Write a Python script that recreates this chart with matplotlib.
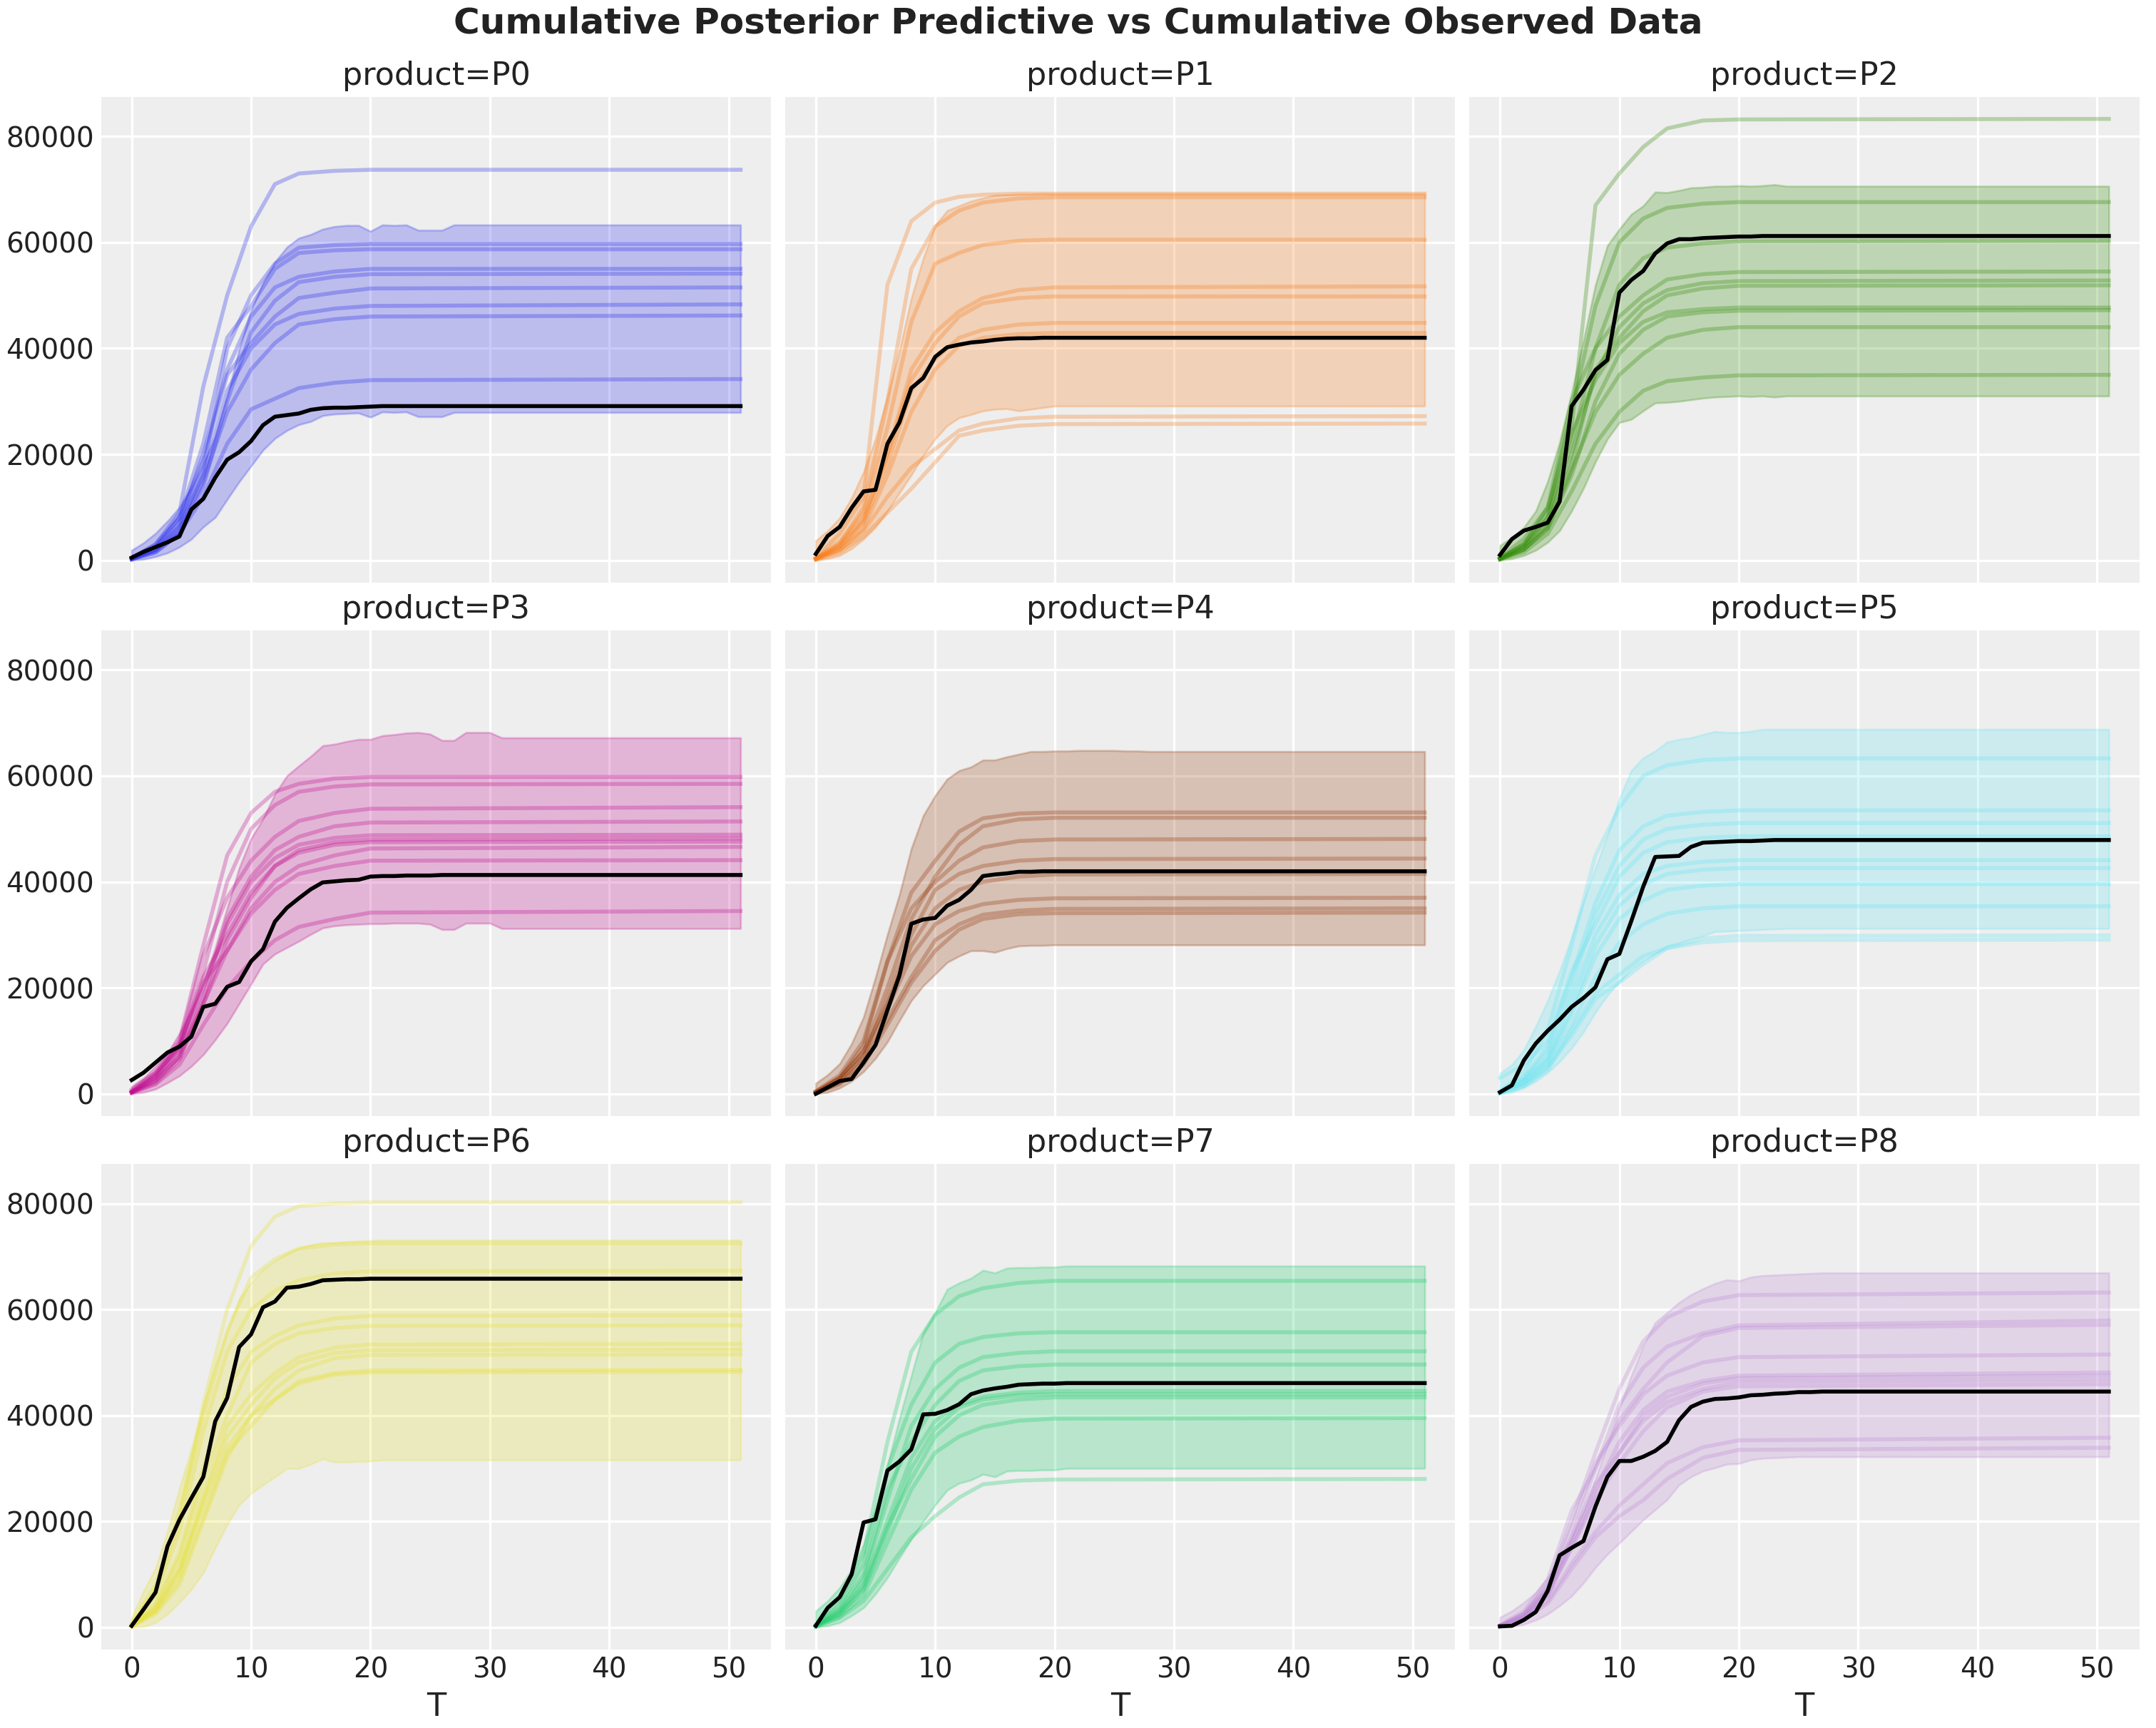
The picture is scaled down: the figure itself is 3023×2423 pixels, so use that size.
import numpy as np
import matplotlib.pyplot as plt

# time grids (T axis). band/observed are read at every step up to 31, samples at fewer steps
T_BAND = list(range(32)) + [51]
T_DRAW = [0, 2, 4, 6, 8, 10, 12, 14, 17, 20, 51]

products = ["P0", "P1", "P2", "P3", "P4", "P5", "P6", "P7", "P8"]
colors = ["#2a2eec", "#fa7c17", "#328c06", "#c10c90", "#933708",
          "#65e5f3", "#e6e135", "#1ccd6a", "#bd8ad5"]

# values in thousands
obs_p0 = [0.5, 1.6, 2.5, 3.4, 4.5, 9.6, 11.6, 15.6, 19.0, 20.4,
          22.5, 25.5, 27.1, 27.4, 27.7, 28.4, 28.7, 28.8, 28.8, 28.9,
          29.0, 29.1, 29.1, 29.1, 29.1, 29.1, 29.1, 29.1, 29.1, 29.1,
          29.1, 29.1, 29.1]
upper_p0 = [1.9, 3.3, 5.1, 7.4, 10.0, 13.7, 18.2, 23.4, 30.8, 39.8,
            47.2, 52.4, 56.3, 59.1, 60.8, 61.5, 62.5, 63.0, 63.2, 63.2,
            62.1, 63.3, 63.2, 63.3, 62.3, 62.3, 62.3, 63.3, 63.3, 63.3,
            63.3, 63.3, 63.3]
lower_p0 = [0.0, 0.2, 0.7, 1.4, 2.5, 4.0, 6.3, 8.1, 11.5, 14.8,
            17.8, 20.8, 23.0, 24.5, 25.6, 26.2, 27.3, 27.6, 27.7, 27.8,
            27.0, 28.0, 27.9, 28.0, 27.1, 27.1, 27.1, 27.9, 27.9, 27.9,
            27.9, 27.9, 27.9]
samples_p0 = [
    [0.3, 3.0, 9.0, 32.8, 50.0, 63.0, 71.0, 73.0, 73.5, 73.7, 73.7],
    [0.2, 2.0, 6.0, 17.0, 40.0, 50.0, 56.0, 59.0, 59.5, 59.7, 59.7],
    [0.5, 3.0, 8.0, 22.0, 42.0, 48.0, 55.0, 58.0, 58.5, 58.7, 58.7],
    [0.3, 2.5, 7.0, 20.0, 36.0, 46.0, 51.5, 53.5, 54.5, 55.0, 55.0],
    [0.2, 1.5, 5.0, 14.0, 30.0, 43.0, 49.0, 52.5, 53.5, 54.0, 54.1],
    [0.4, 2.5, 8.0, 19.0, 35.0, 41.0, 46.0, 49.5, 50.5, 51.3, 51.5],
    [0.2, 2.0, 6.5, 16.0, 32.0, 40.0, 44.5, 46.5, 47.5, 48.0, 48.3],
    [0.3, 1.8, 5.5, 15.0, 28.0, 36.0, 41.0, 44.5, 45.5, 46.0, 46.2],
    [0.2, 1.5, 5.0, 12.0, 22.0, 28.5, 30.5, 32.5, 33.5, 34.0, 34.2],
]

obs_p1 = [1.2, 4.6, 6.3, 9.9, 13.0, 13.3, 22.0, 26.0, 32.5, 34.4,
          38.4, 40.2, 40.7, 41.1, 41.3, 41.6, 41.8, 41.9, 41.9, 42.0,
          42.0, 42.0, 42.0, 42.0, 42.0, 42.0, 42.0, 42.0, 42.0, 42.0,
          42.0, 42.0, 42.0]
upper_p1 = [3.7, 5.6, 8.0, 11.8, 16.7, 22.9, 31.0, 39.6, 49.5, 57.0,
            63.2, 66.0, 66.9, 67.8, 68.4, 68.9, 69.0, 69.1, 69.1, 69.2,
            69.2, 69.2, 69.2, 69.2, 69.2, 69.2, 69.2, 69.2, 69.2, 69.2,
            69.2, 69.2, 69.2]
lower_p1 = [0.0, 0.3, 0.9, 2.2, 4.0, 6.2, 9.3, 12.7, 16.1, 19.8,
            22.9, 25.4, 26.9, 27.5, 28.2, 28.5, 28.6, 28.2, 28.5, 28.8,
            29.1, 29.1, 29.1, 29.1, 29.1, 29.1, 29.1, 29.1, 29.1, 29.1,
            29.1, 29.1, 29.1]
samples_p1 = [
    [0.5, 5.0, 12.0, 52.0, 64.0, 67.5, 68.6, 69.0, 69.2, 69.2, 69.2],
    [0.3, 3.0, 10.0, 30.0, 55.0, 63.0, 66.0, 67.5, 68.3, 68.5, 68.5],
    [0.4, 3.5, 9.0, 25.0, 45.0, 56.0, 58.0, 59.5, 60.3, 60.5, 60.5],
    [0.3, 3.0, 8.0, 20.0, 36.0, 43.0, 47.0, 49.5, 51.0, 51.5, 51.7],
    [0.2, 2.5, 7.5, 20.0, 34.0, 41.0, 46.0, 48.5, 49.5, 49.8, 49.8],
    [0.3, 2.5, 7.0, 18.0, 32.0, 38.0, 42.0, 43.5, 44.5, 44.8, 44.8],
    [0.2, 2.0, 6.0, 16.0, 28.0, 36.0, 40.5, 42.0, 42.7, 42.9, 42.9],
    [0.2, 2.0, 5.5, 12.0, 17.5, 21.0, 24.5, 25.8, 26.8, 27.1, 27.2],
    [0.1, 1.5, 4.5, 9.0, 13.5, 18.5, 23.5, 24.5, 25.4, 25.7, 25.8],
]

obs_p2 = [1.0, 4.0, 5.6, 6.3, 7.1, 11.1, 29.1, 32.2, 35.9, 37.8,
          50.5, 52.9, 54.6, 57.9, 59.8, 60.6, 60.6, 60.8, 60.9, 61.0,
          61.1, 61.1, 61.2, 61.2, 61.2, 61.2, 61.2, 61.2, 61.2, 61.2,
          61.2, 61.2, 61.2]
upper_p2 = [2.8, 4.3, 6.2, 9.3, 14.9, 22.3, 31.6, 41.5, 52.0, 59.4,
            62.5, 65.3, 66.9, 69.5, 69.4, 69.8, 70.3, 70.4, 70.6, 70.6,
            70.7, 70.6, 70.7, 70.9, 70.6, 70.6, 70.6, 70.6, 70.6, 70.6,
            70.6, 70.6, 70.6]
lower_p2 = [0.0, 0.3, 0.9, 1.9, 3.4, 5.6, 9.3, 13.6, 18.6, 22.9,
            26.0, 26.6, 28.2, 29.7, 29.8, 30.0, 30.3, 30.6, 30.8, 30.9,
            31.0, 30.9, 31.0, 30.8, 31.0, 31.0, 31.0, 31.0, 31.0, 31.0,
            31.0, 31.0, 31.0]
samples_p2 = [
    [0.4, 3.0, 10.0, 25.0, 67.0, 73.0, 78.0, 81.5, 83.0, 83.2, 83.3],
    [0.3, 3.0, 9.0, 28.0, 48.0, 60.0, 64.5, 66.5, 67.3, 67.6, 67.6],
    [0.2, 2.5, 8.0, 22.0, 40.0, 52.0, 57.0, 59.0, 59.8, 60.2, 60.3],
    [0.5, 4.0, 10.0, 30.0, 40.0, 46.0, 50.0, 53.0, 54.0, 54.4, 54.5],
    [0.3, 2.5, 7.0, 20.0, 35.0, 44.0, 48.5, 51.0, 52.3, 52.7, 52.8],
    [0.2, 2.0, 6.5, 18.0, 36.0, 42.0, 47.0, 50.0, 51.3, 51.8, 51.9],
    [0.4, 3.0, 8.0, 24.0, 34.0, 41.0, 45.0, 46.8, 47.4, 47.7, 47.7],
    [0.2, 2.0, 6.0, 16.0, 30.0, 39.0, 43.5, 46.0, 46.8, 47.1, 47.2],
    [0.3, 2.0, 6.0, 17.0, 28.0, 35.0, 39.0, 42.0, 43.5, 44.0, 44.0],
    [0.2, 1.5, 5.0, 13.0, 22.0, 28.0, 32.0, 33.8, 34.5, 34.9, 35.0],
]

obs_p3 = [2.6, 4.0, 5.9, 7.8, 8.9, 10.8, 16.4, 17.0, 20.2, 21.1,
          25.0, 27.3, 32.5, 35.1, 36.9, 38.6, 39.9, 40.1, 40.3, 40.4,
          41.0, 41.1, 41.1, 41.2, 41.2, 41.2, 41.3, 41.3, 41.3, 41.3,
          41.3, 41.3, 41.3]
upper_p3 = [1.4, 3.0, 5.2, 7.7, 11.4, 15.8, 20.8, 27.6, 35.1, 42.6,
            48.2, 51.9, 56.6, 60.0, 61.9, 63.7, 65.7, 66.0, 66.5, 66.9,
            66.9, 67.6, 67.8, 68.1, 68.2, 67.9, 66.7, 66.7, 68.2, 68.2,
            68.2, 67.2, 67.2]
lower_p3 = [0.0, 0.3, 0.9, 2.1, 3.4, 5.2, 7.4, 10.2, 13.3, 17.0,
            20.7, 24.5, 26.4, 27.6, 28.8, 30.1, 31.3, 31.7, 31.9, 32.0,
            32.1, 32.1, 32.2, 32.2, 32.2, 32.0, 31.0, 31.0, 32.2, 32.2,
            32.2, 31.2, 31.2]
samples_p3 = [
    [0.5, 4.0, 10.0, 28.0, 45.0, 53.0, 57.0, 58.5, 59.5, 59.8, 59.8],
    [0.3, 3.0, 8.5, 23.0, 40.0, 50.0, 54.5, 57.0, 58.0, 58.4, 58.5],
    [0.4, 3.5, 9.5, 26.0, 37.0, 44.0, 48.5, 51.5, 53.0, 53.8, 54.1],
    [0.2, 2.5, 7.0, 18.0, 33.0, 41.0, 46.0, 48.5, 50.5, 51.2, 51.4],
    [0.3, 3.0, 8.0, 20.0, 32.0, 40.0, 44.5, 47.0, 48.3, 48.8, 48.9],
    [0.8, 4.0, 9.0, 22.0, 30.0, 38.0, 43.0, 46.0, 47.5, 48.0, 48.2],
    [0.2, 2.0, 6.5, 17.0, 29.0, 37.0, 43.0, 45.5, 47.0, 47.5, 47.6],
    [0.4, 3.5, 9.0, 21.0, 27.0, 35.0, 40.0, 43.0, 45.0, 46.3, 46.6],
    [0.3, 2.5, 7.0, 17.0, 27.0, 34.0, 38.5, 41.5, 43.0, 44.0, 44.1],
    [0.2, 1.8, 5.5, 13.0, 20.0, 25.0, 29.0, 31.5, 33.0, 34.2, 34.5],
]

obs_p4 = [0.0, 1.2, 2.4, 2.8, 5.9, 9.2, 15.8, 22.3, 32.1, 32.9,
          33.2, 35.5, 36.6, 38.5, 41.1, 41.4, 41.6, 41.9, 41.9, 42.0,
          42.0, 42.0, 42.0, 42.0, 42.0, 42.0, 42.0, 42.0, 42.0, 42.0,
          42.0, 42.0, 42.0]
upper_p4 = [2.0, 3.6, 5.7, 9.5, 14.5, 22.0, 30.1, 37.6, 46.3, 52.5,
            56.3, 59.4, 61.0, 61.7, 63.0, 63.0, 63.6, 64.1, 64.6, 64.6,
            64.7, 64.7, 64.8, 64.8, 64.8, 64.8, 64.7, 64.7, 64.6, 64.6,
            64.6, 64.6, 64.6]
lower_p4 = [0.0, 0.3, 1.1, 2.4, 4.2, 6.7, 9.8, 13.8, 17.6, 20.4,
            22.6, 24.8, 26.0, 27.0, 27.0, 26.7, 27.4, 27.9, 28.0, 28.0,
            28.1, 28.1, 28.1, 28.1, 28.1, 28.1, 28.1, 28.1, 28.1, 28.1,
            28.1, 28.1, 28.1]
samples_p4 = [
    [0.5, 3.5, 10.0, 25.0, 38.0, 44.0, 49.5, 52.0, 52.9, 53.1, 53.1],
    [0.3, 3.0, 8.0, 20.0, 33.0, 41.0, 47.0, 50.5, 51.8, 52.1, 52.1],
    [0.4, 3.0, 9.0, 25.0, 35.0, 40.0, 44.0, 46.5, 47.7, 48.0, 48.1],
    [0.2, 2.5, 7.0, 18.0, 30.0, 38.5, 41.5, 43.0, 44.0, 44.3, 44.4],
    [0.3, 3.0, 8.0, 17.0, 28.0, 35.0, 38.5, 40.0, 41.0, 41.4, 41.5],
    [0.3, 2.5, 7.0, 16.0, 26.0, 32.0, 34.5, 35.8, 36.6, 36.9, 37.0],
    [0.2, 2.0, 6.0, 14.0, 22.0, 29.0, 32.0, 33.8, 34.6, 34.9, 35.0],
    [0.2, 1.8, 5.5, 13.0, 21.0, 27.0, 31.0, 33.0, 33.9, 34.1, 34.2],
]

obs_p5 = [0.3, 1.6, 6.3, 9.5, 11.9, 14.0, 16.4, 18.1, 20.1, 25.4,
          26.4, 32.6, 39.1, 44.7, 44.8, 44.9, 46.6, 47.4, 47.5, 47.6,
          47.7, 47.7, 47.8, 47.9, 47.9, 47.9, 47.9, 47.9, 47.9, 47.9,
          47.9, 47.9, 47.9]
upper_p5 = [3.9, 5.5, 8.3, 12.7, 17.6, 23.2, 29.5, 36.3, 42.6, 48.8,
            55.7, 61.0, 63.4, 64.7, 66.4, 66.9, 67.2, 67.8, 68.4, 68.2,
            68.2, 68.4, 68.8, 68.8, 68.8, 68.8, 68.8, 68.8, 68.8, 68.8,
            68.8, 68.8, 68.8]
lower_p5 = [0.0, 0.3, 1.1, 2.4, 4.0, 6.1, 8.6, 11.7, 15.4, 18.6,
            21.1, 23.5, 25.1, 26.4, 27.9, 28.5, 29.2, 29.8, 30.6, 30.7,
            30.8, 30.9, 31.0, 31.1, 31.2, 31.2, 31.2, 31.2, 31.2, 31.2,
            31.2, 31.2, 31.2]
samples_p5 = [
    [0.5, 4.0, 12.0, 28.0, 45.0, 54.0, 60.0, 62.0, 63.0, 63.3, 63.3],
    [0.3, 3.0, 9.0, 22.0, 36.0, 46.0, 50.5, 52.5, 53.2, 53.5, 53.5],
    [0.4, 3.0, 8.0, 20.0, 34.0, 43.0, 48.0, 50.0, 50.8, 51.1, 51.1],
    [3.0, 5.5, 10.0, 23.0, 32.0, 41.0, 45.5, 47.5, 48.3, 48.6, 48.6],
    [0.2, 2.5, 7.0, 18.0, 30.0, 37.5, 41.5, 43.0, 43.8, 44.1, 44.1],
    [0.3, 2.5, 6.5, 16.0, 28.0, 35.5, 39.5, 41.5, 42.3, 42.6, 42.6],
    [0.2, 2.0, 6.0, 15.0, 26.0, 33.0, 36.5, 38.5, 39.3, 39.6, 39.6],
    [0.2, 2.0, 5.5, 13.0, 22.0, 28.5, 32.0, 34.0, 35.0, 35.4, 35.4],
    [0.1, 1.5, 5.0, 11.0, 18.0, 21.0, 24.5, 27.5, 29.3, 29.8, 29.9],
    [0.1, 1.5, 4.5, 12.0, 19.0, 22.5, 26.0, 27.5, 28.6, 29.0, 29.1],
]

obs_p6 = [0.3, 3.4, 6.6, 15.3, 20.3, 24.4, 28.4, 38.9, 43.3, 52.9,
          55.3, 60.4, 61.5, 64.1, 64.3, 64.8, 65.5, 65.6, 65.7, 65.7,
          65.8, 65.8, 65.8, 65.8, 65.8, 65.8, 65.8, 65.8, 65.8, 65.8,
          65.8, 65.8, 65.8]
upper_p6 = [1.9, 6.9, 11.2, 18.1, 26.2, 33.7, 41.9, 49.4, 55.9, 61.9,
            65.0, 67.5, 69.1, 70.6, 71.6, 72.2, 72.6, 72.6, 72.8, 72.9,
            73.0, 73.1, 73.1, 73.1, 73.1, 73.1, 73.1, 73.1, 73.1, 73.1,
            73.1, 73.1, 73.1]
lower_p6 = [0.0, 0.1, 0.9, 2.5, 4.7, 7.2, 10.3, 15.0, 19.4, 23.1,
            25.3, 26.9, 28.4, 30.0, 30.0, 30.8, 31.8, 31.2, 31.2, 31.3,
            31.4, 31.6, 31.6, 31.6, 31.6, 31.6, 31.6, 31.6, 31.6, 31.6,
            31.6, 31.6, 31.6]
samples_p6 = [
    [0.5, 7.0, 20.0, 42.0, 60.0, 72.0, 77.5, 79.5, 80.0, 80.2, 80.2],
    [0.8, 8.0, 22.0, 40.0, 56.0, 66.0, 69.5, 71.5, 72.3, 72.5, 72.5],
    [0.4, 6.0, 18.0, 37.0, 52.0, 60.0, 63.5, 65.5, 66.8, 67.2, 67.3],
    [0.3, 4.5, 14.0, 30.0, 45.0, 52.0, 55.0, 57.0, 58.3, 58.8, 58.9],
    [0.2, 4.0, 13.0, 28.0, 40.0, 50.0, 53.5, 55.5, 56.5, 56.9, 57.0],
    [0.3, 3.5, 11.0, 25.0, 38.0, 44.0, 48.0, 51.0, 52.8, 53.4, 53.5],
    [0.2, 3.0, 10.0, 24.0, 36.0, 42.0, 47.0, 50.0, 51.8, 52.3, 52.4],
    [0.3, 3.5, 11.0, 23.0, 34.0, 40.0, 45.0, 48.5, 50.8, 51.4, 51.5],
    [0.2, 3.0, 9.0, 21.0, 33.0, 38.0, 43.0, 46.5, 48.0, 48.5, 48.6],
    [0.2, 2.5, 8.0, 20.0, 32.0, 40.0, 43.0, 46.0, 47.7, 48.1, 48.2],
]

obs_p7 = [0.3, 3.7, 5.7, 10.0, 19.8, 20.4, 29.6, 31.3, 33.6, 40.2,
          40.3, 41.0, 42.1, 44.0, 44.7, 45.1, 45.4, 45.8, 45.9, 46.0,
          46.0, 46.1, 46.1, 46.1, 46.1, 46.1, 46.1, 46.1, 46.1, 46.1,
          46.1, 46.1, 46.1]
upper_p7 = [3.1, 5.0, 7.5, 10.9, 15.6, 22.5, 30.6, 39.4, 47.5, 55.6,
            59.4, 63.8, 65.0, 65.9, 67.4, 66.9, 67.8, 67.9, 67.9, 68.0,
            68.0, 68.2, 68.2, 68.2, 68.2, 68.2, 68.2, 68.2, 68.2, 68.2,
            68.2, 68.2, 68.2]
lower_p7 = [0.0, 0.3, 0.9, 2.2, 3.7, 6.3, 9.4, 13.1, 16.6, 20.0,
            23.1, 25.9, 27.2, 27.8, 28.9, 28.4, 29.5, 29.6, 29.6, 29.7,
            29.7, 30.0, 30.0, 30.0, 30.0, 30.0, 30.0, 30.0, 30.0, 30.0,
            30.0, 30.0, 30.0]
samples_p7 = [
    [0.5, 5.0, 14.0, 35.0, 52.0, 59.0, 62.5, 64.0, 65.0, 65.4, 65.4],
    [0.4, 4.0, 12.0, 30.0, 42.0, 50.0, 53.5, 54.8, 55.5, 55.7, 55.7],
    [0.3, 3.0, 9.0, 24.0, 38.0, 45.0, 49.0, 51.0, 51.8, 52.1, 52.1],
    [0.5, 3.5, 10.0, 26.0, 35.0, 42.0, 46.5, 48.5, 49.3, 49.6, 49.6],
    [0.3, 3.0, 8.0, 20.0, 32.0, 39.0, 42.0, 43.5, 44.3, 44.6, 44.6],
    [0.2, 2.5, 7.0, 18.0, 30.0, 37.5, 41.5, 43.0, 43.8, 44.0, 44.0],
    [0.3, 2.5, 7.5, 19.0, 28.0, 36.0, 40.0, 42.0, 43.0, 43.4, 43.4],
    [0.2, 2.0, 6.0, 16.0, 26.0, 33.0, 36.0, 37.8, 39.0, 39.4, 39.5],
    [0.1, 1.8, 5.0, 11.0, 17.0, 21.0, 24.5, 27.0, 27.7, 27.9, 28.0],
]

obs_p8 = [0.2, 0.3, 1.4, 2.9, 6.9, 13.6, 15.0, 16.3, 22.8, 28.4,
          31.4, 31.4, 32.2, 33.3, 35.0, 39.1, 41.6, 42.6, 43.1, 43.2,
          43.4, 43.8, 43.9, 44.1, 44.2, 44.4, 44.4, 44.5, 44.5, 44.5,
          44.5, 44.5, 44.5]
upper_p8 = [1.9, 3.1, 4.7, 6.6, 9.4, 12.8, 16.9, 21.9, 28.1, 34.4,
            41.3, 47.5, 53.1, 57.5, 59.4, 61.3, 62.8, 63.9, 64.9, 65.6,
            65.4, 66.1, 66.4, 66.5, 66.6, 66.7, 66.8, 66.9, 66.9, 66.9,
            66.9, 66.9, 66.9]
lower_p8 = [0.0, 0.1, 0.6, 1.4, 2.5, 4.1, 5.9, 8.4, 11.3, 13.8,
            15.9, 18.1, 20.3, 22.2, 24.1, 26.9, 28.4, 29.5, 30.1, 30.8,
            30.9, 31.6, 31.9, 32.0, 32.1, 32.2, 32.2, 32.2, 32.2, 32.2,
            32.2, 32.2, 32.2]
samples_p8 = [
    [0.3, 2.5, 8.0, 20.0, 33.0, 45.0, 54.0, 58.5, 61.5, 62.7, 63.2],
    [0.4, 3.0, 9.0, 22.0, 30.0, 42.0, 49.0, 53.0, 55.5, 57.0, 57.9],
    [0.2, 2.0, 7.0, 17.0, 30.0, 39.0, 45.0, 50.0, 55.0, 56.5, 57.1],
    [0.3, 2.5, 7.5, 19.0, 31.0, 38.0, 44.0, 47.5, 50.0, 51.0, 51.5],
    [0.2, 2.0, 6.0, 16.0, 26.0, 35.0, 41.0, 44.5, 46.5, 47.5, 48.1],
    [0.3, 2.5, 7.0, 17.0, 27.0, 33.0, 40.0, 43.5, 46.0, 47.0, 47.5],
    [0.2, 2.0, 6.5, 15.0, 25.0, 33.0, 39.0, 42.5, 45.0, 46.3, 46.7],
    [0.3, 2.0, 6.0, 15.0, 24.0, 31.0, 37.0, 41.5, 44.5, 45.5, 45.9],
    [0.2, 1.8, 5.0, 12.0, 18.0, 23.0, 27.0, 31.0, 34.0, 35.3, 35.8],
    [0.1, 1.5, 4.5, 11.0, 17.0, 21.0, 24.0, 28.0, 32.0, 33.5, 33.9],
]

observed = [obs_p0, obs_p1, obs_p2, obs_p3, obs_p4, obs_p5, obs_p6, obs_p7, obs_p8]
uppers = [upper_p0, upper_p1, upper_p2, upper_p3, upper_p4, upper_p5, upper_p6, upper_p7, upper_p8]
lowers = [lower_p0, lower_p1, lower_p2, lower_p3, lower_p4, lower_p5, lower_p6, lower_p7, lower_p8]
samples = [samples_p0, samples_p1, samples_p2, samples_p3, samples_p4,
           samples_p5, samples_p6, samples_p7, samples_p8]

# darkgrid look
plt.rcParams.update({
    "axes.facecolor": "#eeeeee",
    "axes.edgecolor": "white",
    "axes.grid": True,
    "grid.color": "white",
    "grid.linewidth": 1.2,
    "axes.spines.top": False,
    "axes.spines.right": False,
    "axes.spines.left": False,
    "axes.spines.bottom": False,
    "xtick.major.size": 0,
    "ytick.major.size": 0,
    "xtick.labelsize": 14,
    "ytick.labelsize": 14,
    "axes.titlesize": 16,
    "axes.labelsize": 16,
    "text.color": "#222222",
    "xtick.color": "#222222",
    "ytick.color": "#222222",
    "axes.labelcolor": "#222222",
    "axes.axisbelow": True,
})

fig, axes = plt.subplots(3, 3, figsize=(15.115, 12.115), dpi=200,
                         sharex=True, sharey=True, layout="constrained")
# a little extra room at the top and right edge
fig.get_layout_engine().set(rect=(0.0, 0.0, 0.995, 0.995))

for i, ax in enumerate(axes.flat):
    c = colors[i]
    ax.fill_between(T_BAND, np.array(lowers[i]) * 1000, np.array(uppers[i]) * 1000,
                    color=c, alpha=0.25)
    for s in samples[i]:
        ax.plot(T_DRAW, np.array(s) * 1000, color=c, alpha=0.3, lw=2)
    ax.plot(T_BAND, np.array(observed[i]) * 1000, color="black", lw=2)
    ax.set_title(f"product={products[i]}")

for ax in axes[-1]:
    ax.set_xlabel("T")

fig.suptitle("Cumulative Posterior Predictive vs Cumulative Observed Data",
             fontsize=18, fontweight="bold")
fig.savefig("out.png", dpi=200)
